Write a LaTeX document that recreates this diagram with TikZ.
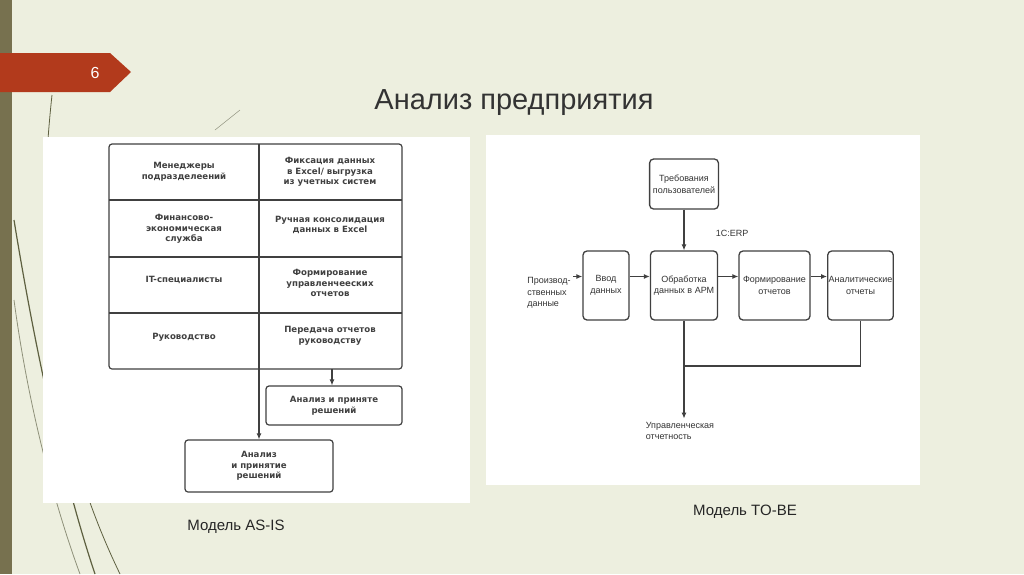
\documentclass[tikz,border=0pt]{standalone}
\usepackage{fontspec}
\setmainfont{Liberation Sans}
\newfontfamily\tblfont{DejaVu Sans}
\usetikzlibrary{arrows.meta}
\definecolor{bgc}{HTML}{EDEFDF}
\definecolor{stripe}{HTML}{77714F}
\definecolor{tagred}{HTML}{B23A1C}
\definecolor{vine}{HTML}{5E6040}
\tikzset{
 tcell/.style={font=\tblfont\bfseries\fontsize{8.6}{10.6}\selectfont, align=center, text=black!75},
 rbox/.style={draw=black!75, line width=1.3pt, rounded corners=4pt, font=\fontsize{9}{11.5}\selectfont, align=center, text=black!80},
 lab/.style={font=\fontsize{9}{11.5}\selectfont, align=left, text=black!80},
 arr/.style={-{Latex[length=6pt,width=5pt]}, line width=1.1pt, draw=black!75},
 ln/.style={line width=1.2pt, draw=black!75},
 captxt/.style={font=\fontsize{15}{18}\selectfont, text=black!85}
}
\begin{document}
\begin{tikzpicture}[x=1pt,y=-1pt]
\useasboundingbox (0,0) rectangle (1024,574);
\fill[bgc] (0,0) rectangle (1024,574);
\fill[stripe] (0,0) rectangle (12,574);
% vines
\draw[vine, line width=0.8pt] (52,95) .. controls (30,300) and (60,450) .. (120,574);
\draw[vine, line width=1.2pt] (14,220) .. controls (40,380) and (70,500) .. (95,574);
\draw[vine!70, line width=0.8pt] (14,300) .. controls (30,420) and (60,520) .. (80,574);
\draw[vine!60, line width=0.6pt] (215,130) -- (240,110);
% tag
\fill[tagred] (0,53) -- (110,53) -- (131,72) -- (110,92) -- (0,92) -- cycle;
\node[text=white, font=\fontsize{16}{18}\selectfont] (num) at (95,73) {6};
\node[font=\fontsize{29}{34}\selectfont, text=black!80] (title) at (514,103) {Анализ предприятия};
% panels
\fill[white] (43,137) rectangle (470,503);
\fill[white] (486,135) rectangle (920,485);
% AS-IS table
\draw[ln, rounded corners=3pt] (109,144) rectangle (402,369);
\foreach \y in {200,257,313} \draw[ln] (109,\y) -- (402,\y);
\draw[ln] (259,144) -- (259,369);
\node[tcell] (a1) at (184,172) {Менеджеры\\подразделеений};
\node[tcell] (a2) at (184,229) {Финансово-\\экономическая\\служба};
\node[tcell] (a3) at (184,280) {IT-специалисты};
\node[tcell] (a4) at (184,337) {Руководство};
\node[tcell] (b1) at (330,172) {Фиксация данных\\в Excel/ выгрузка\\из учетных систем};
\node[tcell] (b2) at (330,225) {Ручная консолидация\\данных в Excel};
\node[tcell] (b3) at (330,283) {Формирование\\управленчееских\\отчетов};
\node[tcell] (b4) at (330,336) {Передача отчетов\\руководству};
\node[tcell, draw=black!75, line width=1.2pt, rounded corners=3pt, minimum width=136pt, minimum height=39pt] (c1) at (334,405.5) {Анализ и приняте\\решений};
\node[tcell, draw=black!75, line width=1.2pt, rounded corners=3pt, minimum width=148pt, minimum height=52pt] (c2) at (259,466) {Анализ\\и принятие\\решений};
\coordinate (t1) at (332,369);
\coordinate (t2) at (259,369);
\draw[arr] (t1) -- (c1.north -| t1);
\draw[arr] (t2) -- (c2.north);
% TO-BE
\node[rbox, minimum width=64pt, minimum height=50pt] (req) at (684,184) {Требования\\пользователей};
\node[rbox, minimum width=46pt, minimum height=69pt] (inp) at (606,285.5) {Ввод\\данных};
\node[rbox, minimum width=64pt, minimum height=69pt] (proc) at (684,285.5) {Обработка\\данных в АРМ};
\node[rbox, minimum width=71pt, minimum height=69pt] (form) at (774.5,285.5) {Формирование\\отчетов};
\node[rbox, minimum width=63pt, minimum height=69pt, inner sep=1pt] (anal) at (860.5,285.5) {Аналитические\\отчеты};
\node[lab] (erp) at (732,233) {1C:ERP};
\node[lab] (src) at (549,293) {Производ-\\ственных\\данные};
\node[lab] (out) at (680,431) {Управленческая\\отчетность};
\coordinate (j) at (684,366);
\coordinate (s0) at (573,276.5);
\draw[arr] (s0) -- (inp.west |- s0);
\draw[arr] (req) -- (proc);
\draw[arr] (inp.east |- s0) -- (proc.west |- s0);
\draw[arr] (proc.east |- s0) -- (form.west |- s0);
\draw[arr] (form.east |- s0) -- (anal.west |- s0);
\draw[ln] (proc.south) -- (j) -| (anal.south);
\draw[arr] (j) -- (out.north -| j);
\node[captxt] (m1) at (236,527) {Модель AS-IS};
\node[captxt] (m2) at (745,512) {Модель TO-BE};
\end{tikzpicture}
\end{document}
